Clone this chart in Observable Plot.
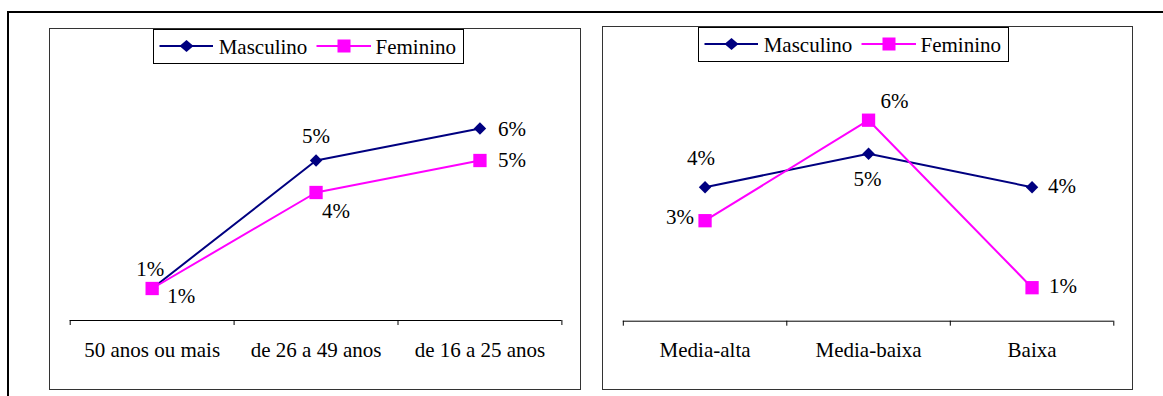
<!DOCTYPE html>
<html>
<head>
<meta charset="utf-8">
<script src="https://cdn.jsdelivr.net/npm/d3@7"></script>
<script src="https://cdn.jsdelivr.net/npm/@observablehq/plot@0.6"></script>
<style>
  body { margin: 0; background: #fff; }
  #page { position: relative; width: 1163px; height: 396px; overflow: hidden; background: #fff; }
  .rule { position: absolute; background: #000; }
  .panel { position: absolute; box-sizing: border-box; border: 1.5px solid #333; background: #fff; }
</style>
</head>
<body>
<div id="page"></div>
<script>
// Age groups (left chart)
const ageGroups = ["50 anos ou mais", "de 26 a 49 anos", "de 16 a 25 anos"];
const ageMasculino = [1, 5, 6];
const ageFeminino = [1, 4, 5];

// Social class (right chart)
const classGroups = ["Media-alta", "Media-baixa", "Baixa"];
const classMasculino = [4, 5, 4];
const classFeminino = [3, 6, 1];

const seriesNames = ["Masculino", "Feminino"];
const seriesColors = ["#000080", "#FF00FF"];

// Label placement per point: [textAnchor, dx, dy to baseline]
const agePlacement = {
  Masculino: [["middle", -2, -13], ["middle", 0, -18], ["start", 18, 7]],
  Feminino: [["start", 15, 14], ["start", 6, 25], ["start", 18, 6]]
};
const classPlacement = {
  Masculino: [["middle", -4, -22], ["middle", -1, 32], ["start", 16, 6]],
  Feminino: [["end", -11, 3], ["start", 12, -12], ["start", 17, 5]]
};

const FONT = '"Liberation Serif", "Times New Roman", Times, Tinos, "Nimbus Roman", "Nimbus Roman No9 L", FreeSerif, "DejaVu Serif", "Noto Serif", Georgia, serif';
const FS = 21;
const page = document.getElementById("page");
page.style.fontFamily = FONT;

function place(el, left, top) {
  el.style.position = "absolute";
  el.style.left = left + "px";
  el.style.top = top + "px";
  page.appendChild(el);
  return el;
}

function box(cls, left, top, width, height) {
  const d = document.createElement("div");
  d.className = cls;
  d.style.left = left + "px";
  d.style.top = top + "px";
  d.style.width = width + "px";
  d.style.height = height + "px";
  page.appendChild(d);
  return d;
}

// outer page frame
box("rule", 7.3, 11.3, 1170, 1.7);
box("rule", 7.3, 11.3, 1.7, 400);

// chart panels
box("panel", 49.3, 28.3, 532, 361.3);
box("panel", 602.3, 26, 531, 363.6);

function lineChart({groups, masc, fem, placement, width, height, marginLeft, marginRight, marginTop, marginBottom, yMax, labelDy}) {
  const bounds = d3.range(groups.length + 1).map(i => i - 0.5);
  const series = [
    {name: seriesNames[0], values: masc, color: seriesColors[0], symbol: "diamond2", r: 5.6},
    {name: seriesNames[1], values: fem, color: seriesColors[1], symbol: "square", r: 7.5}
  ];
  const marks = [
    Plot.ruleY([0], {stroke: "#000", strokeWidth: 1}),
    Plot.axisX({ticks: bounds, tickSize: 5, tickFormat: () => "", label: null, stroke: "#000"}),
    Plot.text(groups, {x: (d, i) => i, y: () => 0, text: d => d, lineAnchor: "bottom",
                       dy: labelDy, fontSize: FS, fill: "#000"})
  ];
  for (const s of series) {
    const rows = s.values.map((v, i) => ({i, v}));
    marks.push(Plot.line(rows, {x: "i", y: "v", stroke: s.color, strokeWidth: 2}));
    marks.push(Plot.dot(rows, {x: "i", y: "v", symbol: s.symbol, r: s.r, fill: s.color, stroke: "none"}));
    rows.forEach((row, k) => {
      const [anchor, dx, dy] = placement[s.name][k];
      marks.push(Plot.text([row], {x: "i", y: "v", text: d => `${d.v}%`, textAnchor: anchor,
                                   lineAnchor: "bottom", dx, dy, fontSize: FS, fill: "#000"}));
    });
  }
  return Plot.plot({
    width, height, marginLeft, marginRight, marginTop, marginBottom,
    style: {fontFamily: FONT, fontSize: FS + "px", background: "transparent", color: "#000", overflow: "visible"},
    x: {domain: [-0.5, groups.length - 0.5], label: null},
    y: {domain: [0, yMax], axis: null},
    marks
  });
}

place(lineChart({
  groups: ageGroups, masc: ageMasculino, fem: ageFeminino, placement: agePlacement,
  width: 530, height: 360, marginLeft: 19.7, marginRight: 18.6, marginTop: 3, marginBottom: 69,
  yMax: 9, labelDy: 36.7
}), 50, 29);

place(lineChart({
  groups: classGroups, masc: classMasculino, fem: classFeminino, placement: classPlacement,
  width: 530, height: 363, marginLeft: 19.8, marginRight: 19.7, marginTop: 26.7, marginBottom: 68.3,
  yMax: 8, labelDy: 36
}), 603, 26);

// series legend box
function legend(left, top) {
  const w = 311, h = 35;
  const svg = d3.create("svg").attr("width", w).attr("height", h)
    .style("font-family", FONT).style("font-size", FS + "px");
  svg.append("rect").attr("x", 0.5).attr("y", 0.5).attr("width", w - 1).attr("height", h - 1)
    .attr("fill", "#fff").attr("stroke", "#000").attr("stroke-width", 1);
  const items = [
    {x0: 6.5, x1: 60, cx: 33.5, tx: 65.7, kind: "diamond"},
    {x0: 163.5, x1: 218, cx: 191, tx: 222.5, kind: "square"}
  ];
  const cy = 17;
  items.forEach((it, k) => {
    const color = seriesColors[k];
    svg.append("line").attr("x1", it.x0).attr("x2", it.x1).attr("y1", cy).attr("y2", cy)
      .attr("stroke", color).attr("stroke-width", 2);
    if (it.kind === "diamond") {
      svg.append("path").attr("d", `M${it.cx - 7},${cy}L${it.cx},${cy - 6}L${it.cx + 7},${cy}L${it.cx},${cy + 6}Z`)
        .attr("fill", color);
    } else {
      svg.append("rect").attr("x", it.cx - 6.5).attr("y", cy - 6.5).attr("width", 13).attr("height", 13)
        .attr("fill", color);
    }
    svg.append("text").attr("x", it.tx).attr("y", 24.5).attr("fill", "#000").text(seriesNames[k]);
  });
  place(svg.node(), left, top);
}
legend(152.5, 28.5);
legend(697.5, 26.5);
</script>
</body>
</html>
